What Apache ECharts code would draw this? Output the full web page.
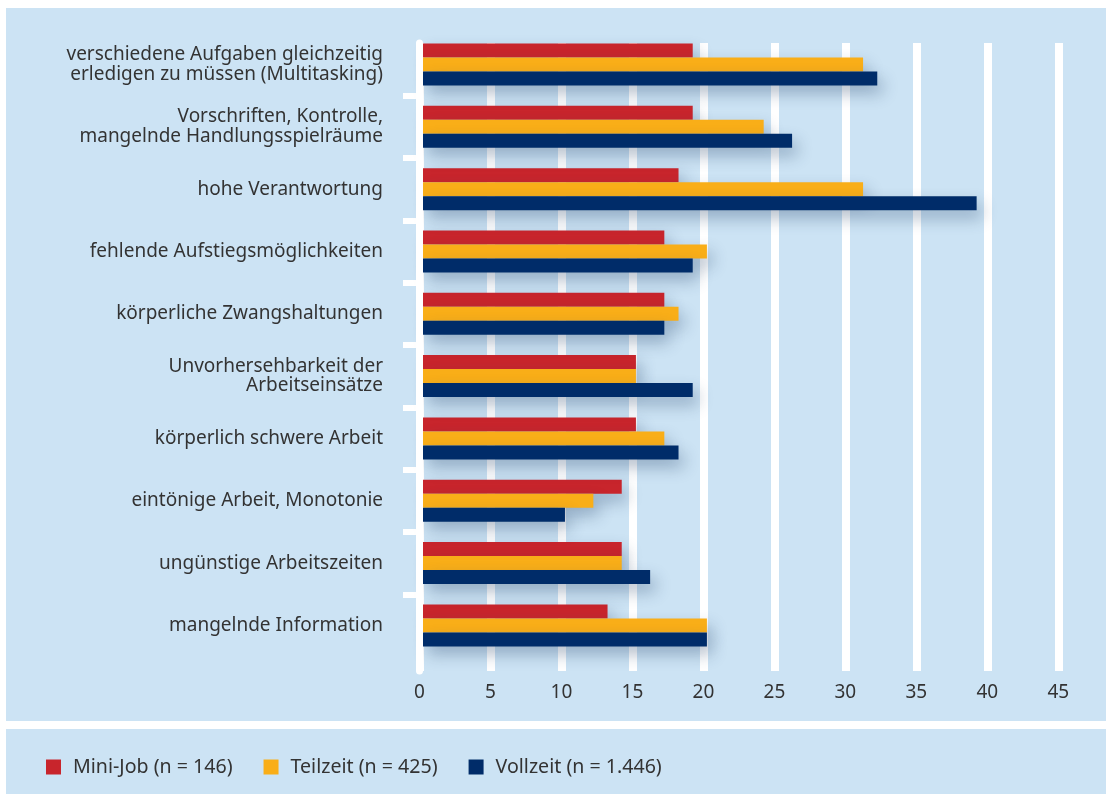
<!DOCTYPE html>
<html>
<head>
<meta charset="utf-8">
<script src="https://cdn.jsdelivr.net/npm/echarts@6/dist/echarts.min.js"></script>
<style>
  html, body { margin: 0; padding: 0; background: #fff; }
  #chart { width: 1106px; height: 794px; }
</style>
</head>
<body>
<div id="chart"></div>
<script>
const categories = [
    'verschiedene Aufgaben gleichzeitig\nerledigen zu müssen (Multitasking)',
    'Vorschriften, Kontrolle,\nmangelnde Handlungsspielräume',
    'hohe Verantwortung',
    'fehlende Aufstiegsmöglichkeiten',
    'körperliche Zwangshaltungen',
    'Unvorhersehbarkeit der\nArbeitseinsätze',
    'körperlich schwere Arbeit',
    'eintönige Arbeit, Monotonie',
    'ungünstige Arbeitszeiten',
    'mangelnde Information'
];
const miniJob = [19, 19, 18, 17, 17, 15, 15, 14, 14, 13];
const teilzeit = [31, 24, 31, 20, 18, 15, 17, 12, 14, 20];
const vollzeit = [32, 26, 39, 19, 17, 19, 18, 10, 16, 20];
const seriesNames = ['Mini-Job (n = 146)', 'Teilzeit (n = 425)', 'Vollzeit (n = 1.446)'];
const colors = ['#c8252c', '#f9ae18', '#002c69'];
const tickPositions = [1, 2, 3, 4, 5, 6, 7, 8, 9];

document.addEventListener('DOMContentLoaded', function () {
    var myChart = echarts.init(document.getElementById('chart'));
    var panel = '#cce3f4';
    var font = 'Noto Sans';

    var shadow = {
        shadowBlur: 16,
        shadowColor: 'rgba(30, 60, 100, 0.33)',
        shadowOffsetX: 5,
        shadowOffsetY: 8
    };

    function barSeries(name, data, color) {
        return {
            name: name,
            type: 'bar',
            xAxisIndex: 0,
            yAxisIndex: 0,
            data: data,
            barWidth: 14,
            barGap: '0%',
            itemStyle: Object.assign({ color: color }, shadow)
        };
    }

    var option = {
        backgroundColor: '#fff',
        animation: false,
        textStyle: { fontFamily: font },
        graphic: [
            { type: 'rect', z: -10, silent: true, shape: { x: 6, y: 8, width: 1100, height: 713 }, style: { fill: panel } },
            { type: 'rect', z: -10, silent: true, shape: { x: 6, y: 729, width: 1100, height: 65 }, style: { fill: panel } }
        ],
        legend: {
            data: seriesNames,
            left: 41,
            top: 752,
            icon: 'rect',
            itemWidth: 15,
            itemHeight: 15,
            itemGap: 31,
            textStyle: { fontFamily: font, fontSize: 19.6, color: '#333', padding: [0, 0, 0, 7] }
        },
        grid: [
            { left: 423, top: 33.3, width: 638.8, height: 623.3 },
            { left: 419.5, top: 43, width: 638.8, height: 628 }
        ],
        xAxis: [
            {
                type: 'value', gridIndex: 0, min: 0, max: 45, interval: 5,
                show: false
            },
            {
                type: 'value', gridIndex: 1, min: 0, max: 45, interval: 5,
                axisLine: { show: false },
                axisTick: { show: false },
                splitLine: { show: true, lineStyle: { color: '#ffffff', width: 8 } },
                axisLabel: { fontFamily: font, fontSize: 19, color: '#333', margin: 12 }
            }
        ],
        yAxis: [
            {
                type: 'category', gridIndex: 0, inverse: true,
                data: categories,
                axisLine: { show: false },
                axisTick: { show: false },
                axisLabel: { fontFamily: font, fontSize: 19, color: '#333', lineHeight: 19.5, margin: 40, align: 'right' }
            },
            {
                type: 'value', gridIndex: 1, min: 0, max: 10,
                z: 10,
                axisLine: { show: true, lineStyle: { color: '#ffffff', width: 7 } },
                axisTick: { show: false },
                axisLabel: { show: false },
                splitLine: { show: false }
            },
            {
                type: 'value', gridIndex: 0, min: 0, max: 10, inverse: true,
                position: 'left',
                axisLine: { show: false },
                axisTick: { show: true, length: 20, customValues: tickPositions, lineStyle: { color: '#ffffff', width: 6 } },
                axisLabel: { show: false },
                splitLine: { show: false }
            }
        ],
        series: [
            barSeries(seriesNames[0], miniJob, colors[0]),
            barSeries(seriesNames[1], teilzeit, colors[1]),
            barSeries(seriesNames[2], vollzeit, colors[2])
        ]
    };

    option && myChart.setOption(option);

    window.addEventListener('resize', function () {
        myChart.resize();
    });
});
</script>
</body>
</html>
